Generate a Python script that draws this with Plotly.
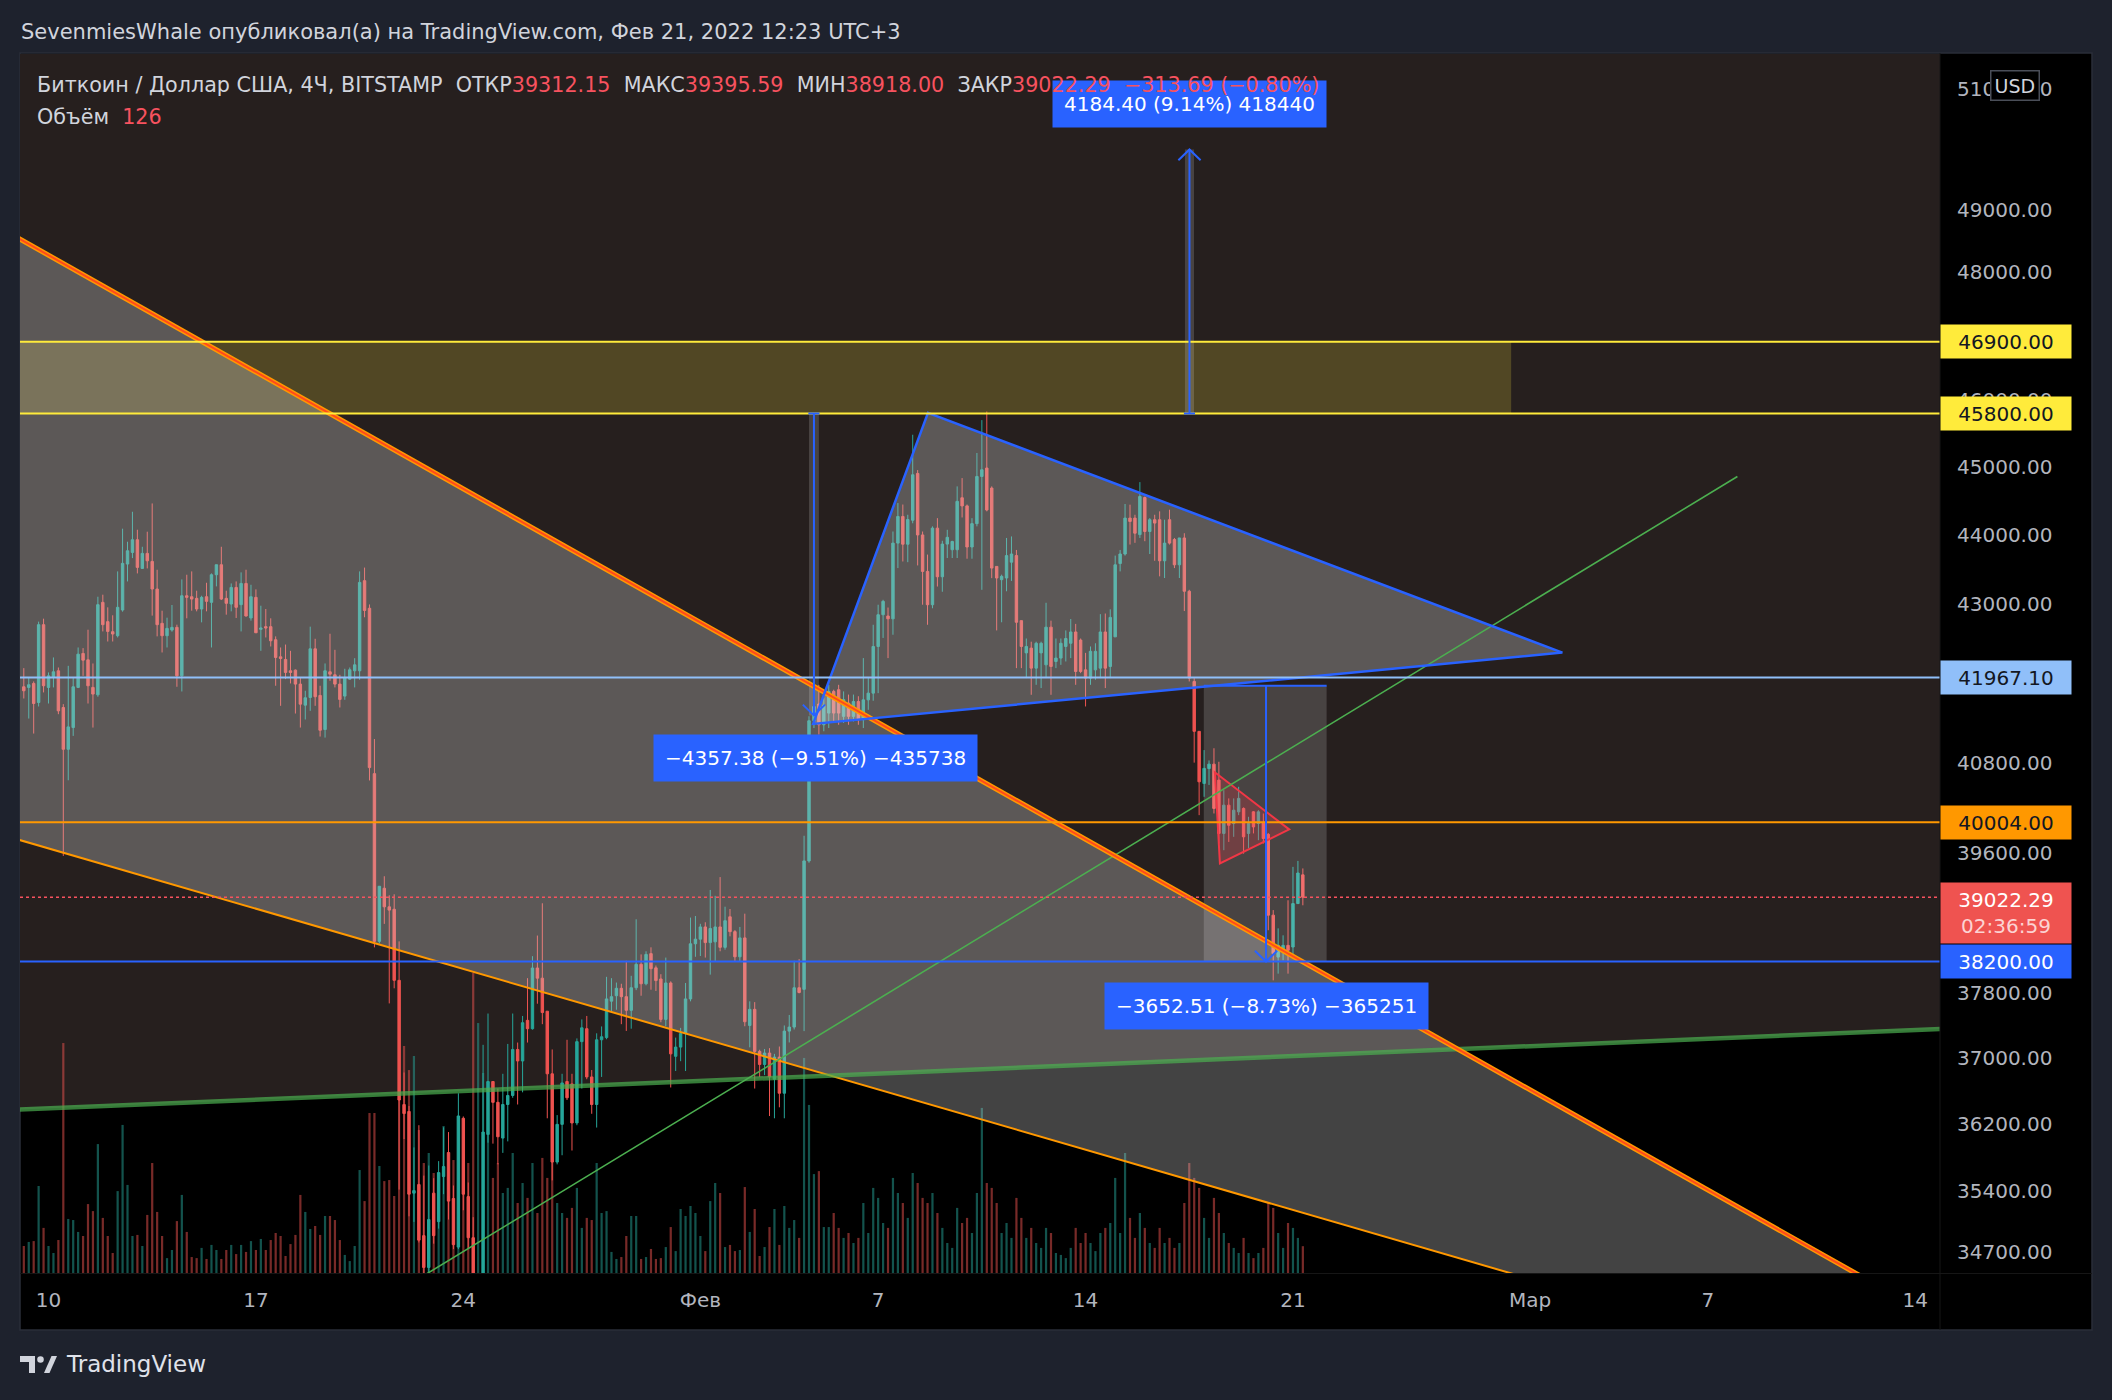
import math
import pandas as pd
import plotly.graph_objects as go

W, H = 2112, 1400
FONT = "DejaVu Sans"

# ---------------- candle data: BITSTAMP BTC/USD, 4H bars (UTC+3) ----------------
first_bar = "2022-01-09 07:00"

opens = [
41838, 41829, 41884, 41621, 42707, 41829, 41967, 42060, 41552, 40981,
41277, 41829, 42302, 42213, 41829, 41727, 43024, 42750, 42608, 42551,
42915, 43573, 43741, 43925, 43510, 43727, 43611, 43214, 42726, 42551,
42631, 42669, 41990, 43118, 43104, 43081, 42929, 43104, 43024, 43419,
43563, 43081, 43000, 43237, 42991, 43294, 42802, 43095, 42641, 42679,
42679, 42494, 42255, 42218, 42060, 42069, 41875, 41584, 41690, 42367,
41718, 41250, 42046, 42004, 41875, 41709, 41944, 42060, 42060, 43334,
42940, 40652, 38456, 39138, 38898, 38867, 37963, 36433, 36350, 35380,
35481, 34886, 34520, 35380, 35048, 35575, 35859, 35317, 34754, 36268,
35340, 34862, 33500, 34300, 36075, 36712, 36460, 36031, 36434, 36543,
37104, 36963, 37463, 37360, 38118, 37990, 37577, 36806, 35746, 36195,
36712, 36683, 36212, 37200, 37360, 36768, 36434, 37223, 37250, 37702,
37770, 37863, 37758, 37588, 37870, 38165, 37920, 38300, 38120, 37980,
37475, 37930, 37020, 37133, 37300, 37730, 38425, 38484, 38640, 38440,
38450, 38640, 38380, 38770, 38580, 38260, 38500, 37400, 37600, 37080,
36920, 37060, 36740, 37010, 36570, 37330, 37380, 37870, 37850, 39494,
41370, 41600, 41315, 41475, 41774, 41797, 41430, 41612, 41430, 41634,
41385, 41657, 41750, 42400, 42848, 42830, 42790, 43876, 44265, 43860,
44210, 44900, 43995, 43467, 42990, 44094, 43390, 43862, 43780, 43780,
44540, 44420, 43820, 44160, 44855, 44980, 44683, 43539, 43348, 43372,
43600, 43695, 42764, 42310, 42377, 42097, 42310, 42143, 42672, 42190,
42237, 42400, 42445, 42604, 42490, 42073, 41958, 42073, 42097, 42604,
42120, 42535, 43580, 43718, 44241, 44241, 44000, 44543, 44045, 44217,
44217, 43620, 44217, 43928, 43562, 43951, 43182, 41912, 41225, 40520,
40720, 40780, 40565, 39855, 40230, 39986, 40141, 40186, 39855, 40141,
39986, 39990, 39843, 38791, 38256, 38342, 38405, 38384, 38940, 39312.15,
]

highs = [
42097, 41958, 41912, 42750, 42792, 42037, 42246, 42106, 41598, 42129,
41958, 42386, 42377, 42636, 42162, 43104, 43133, 42953, 42840, 43467,
44086, 43896, 44334, 44071, 43823, 44042, 44456, 43491, 42905, 42806,
42986, 42707, 43352, 43419, 43467, 43190, 43118, 43304, 43438, 43563,
43823, 43190, 43294, 43323, 43453, 43491, 43275, 43209, 42976, 42929,
42797, 42542, 42386, 42427, 42339, 42078, 41967, 41783, 42679, 42508,
41852, 42162, 42579, 42353, 42004, 42088, 42106, 42236, 43467, 43522,
42994, 41120, 39164, 39294, 39047, 39060, 38456, 36822, 36415, 35920,
36185, 35586, 35705, 35556, 35757, 36160, 36103, 35470, 36570, 36290,
35505, 35100, 34400, 37161, 37548, 36712, 36627, 36806, 37172, 37548,
37189, 37518, 37990, 38268, 38530, 38944, 37577, 37104, 36306, 36806,
37223, 36806, 37240, 37475, 37518, 36852, 37303, 37388, 38007, 37990,
37935, 37920, 38210, 38020, 38738, 38290, 38330, 38380, 38150, 38040,
38250, 37950, 37250, 37370, 37930, 38760, 38780, 38680, 38700, 39116,
39040, 39283, 38900, 38870, 38600, 38640, 38810, 37700, 37690, 37100,
37110, 37120, 37050, 37140, 37400, 37530, 38210, 38230, 39824, 41432,
41958, 41865, 41680, 41865, 41797, 41865, 41774, 41730, 41730, 41707,
42237, 41958, 42706, 42990, 43060, 42950, 44045, 44462, 44440, 44290,
45479, 44950, 44045, 43710, 44120, 44240, 43910, 44070, 43910, 44708,
44831, 44440, 44240, 45205, 45700, 45830, 44708, 43539, 43420, 43951,
43973, 43777, 42764, 42512, 42467, 42467, 42467, 43018, 42764, 42512,
42512, 42626, 42787, 42718, 42512, 42310, 42400, 42445, 42856, 42865,
42925, 43695, 43777, 44448, 44438, 44290, 44771, 44558, 44241, 44290,
44340, 44217, 44364, 43951, 43951, 44020, 43203, 41958, 41225, 40970,
40830, 40995, 40812, 40430, 40320, 40320, 40475, 40200, 40075, 40150,
40163, 40119, 39860, 38856, 38622, 38533, 38983, 39416, 39494, 39395.59,
]

lows = [
41676, 41400, 41195, 41566, 41760, 41607, 41829, 41460, 39559, 40563,
41163, 41820, 41990, 41607, 41277, 41700, 42612, 42470, 42470, 42527,
42891, 43323, 43659, 43438, 43510, 43510, 42835, 42542, 42316, 42386,
42608, 41838, 41773, 42797, 42905, 42896, 42740, 42896, 42386, 43252,
43057, 42849, 42896, 42802, 42612, 42821, 42764, 42593, 42339, 42527,
42400, 41852, 41575, 41944, 41884, 41469, 41277, 41387, 41506, 41575,
41154, 41140, 41921, 41829, 41552, 41658, 41935, 41829, 41935, 42812,
40560, 38380, 38430, 38679, 37674, 37863, 35422, 36020, 35110, 35045,
34807, 34440, 34456, 34793, 34967, 35368, 35072, 34731, 34731, 35180,
34731, 33300, 32950, 34100, 35976, 35965, 35719, 35855, 35992, 36515,
36434, 36581, 37189, 37348, 37670, 37416, 36268, 35530, 35719, 35827,
36488, 35883, 36185, 36627, 36740, 36322, 36157, 36768, 37230, 37580,
37595, 37416, 37332, 37360, 37840, 37770, 37900, 37845, 37830, 37440,
37390, 36640, 36840, 36960, 36840, 37700, 38260, 38270, 38250, 38035,
38200, 38330, 38350, 38520, 38200, 38200, 37390, 37130, 36627, 36768,
36790, 36295, 36268, 36400, 36268, 37190, 37350, 37800, 37330, 39470,
41270, 41180, 41226, 41270, 41360, 41315, 41340, 41315, 41360, 41315,
41270, 41520, 41645, 41750, 42520, 42237, 42565, 43515, 43610, 43600,
44165, 43553, 42990, 42706, 42940, 43250, 43175, 43660, 43660, 43660,
44250, 43650, 43650, 44120, 43203, 44340, 43370, 42626, 42741, 43182,
43330, 42097, 42097, 41958, 41727, 41865, 41820, 41958, 41727, 42097,
42143, 42190, 42237, 41865, 42027, 41566, 41865, 41935, 41958, 41820,
41958, 42535, 43467, 43695, 43855, 43880, 43951, 43904, 43718, 43620,
43396, 43372, 43855, 43515, 43372, 42900, 41912, 40800, 40097, 40341,
40500, 40119, 39722, 39634, 39743, 39810, 40097, 39590, 39660, 39855,
39766, 39722, 38598, 37963, 38047, 38215, 38047, 38256, 38940, 38918.00,
]

closes = [
41783, 41866, 41607, 42707, 41852, 41990, 42046, 41506, 40981, 41286,
41838, 42292, 42208, 41852, 41737, 42991, 42707, 42612, 42575, 42953,
43583, 43765, 43925, 43525, 43727, 43620, 43214, 42707, 42551, 42655,
42669, 41990, 43118, 43095, 43071, 42929, 43095, 43038, 43419, 43563,
43071, 43010, 43237, 42953, 43294, 42830, 43104, 42593, 42660, 42660,
42480, 42246, 42232, 42037, 42037, 41875, 41598, 41686, 42367, 41700,
41240, 42060, 42013, 41875, 41663, 41958, 42074, 42143, 43309, 42909,
40733, 38456, 39164, 38898, 38856, 37963, 36488, 36325, 35368, 35410,
34834, 34520, 35072, 34886, 35622, 35693, 35287, 34782, 36296, 35368,
34862, 33500, 34300, 36103, 36712, 36460, 36047, 36434, 36543, 37104,
36963, 37434, 37360, 38118, 37990, 37560, 36806, 35746, 36195, 36695,
36515, 36212, 37200, 37371, 36768, 36434, 37223, 37260, 37730, 37758,
37863, 37758, 37588, 37870, 38165, 37920, 38290, 38110, 37960, 37475,
37930, 37050, 37133, 37300, 37730, 38425, 38484, 38640, 38440, 38620,
38640, 38380, 38720, 38580, 38260, 38500, 37446, 37600, 37080, 36920,
37060, 36768, 37010, 36570, 37330, 37380, 37870, 37810, 39494, 41370,
41566, 41315, 41585, 41774, 41475, 41475, 41660, 41430, 41634, 41385,
41657, 41750, 42400, 42848, 43038, 42790, 43876, 44265, 43860, 44220,
44880, 43995, 43467, 42990, 44094, 43390, 43862, 43960, 43900, 44487,
44420, 43820, 44160, 44855, 44955, 44360, 43515, 43372, 43396, 43695,
43718, 42741, 42400, 42400, 42097, 42445, 42445, 42672, 42120, 42237,
42445, 42512, 42604, 42050, 42050, 41958, 42332, 42332, 42604, 42097,
42810, 43562, 43718, 44241, 44192, 44020, 44558, 44045, 44217, 44168,
43620, 43876, 43876, 43562, 43951, 43182, 41958, 41225, 40542, 40723,
40780, 40186, 39855, 40230, 39963, 40163, 40320, 39810, 39986, 39941,
40141, 39788, 38791, 38300, 38405, 38405, 38342, 38940, 39335.98, 39022.29,
]

volumes = [
127, 146, 150, 409, 212, 127, 94, 155, 1081, 254,
249, 193, 174, 324, 291, 606, 259, 174, 94, 385,
696, 414, 174, 179, 127, 273, 517, 287, 174, 70,
108, 244, 367, 193, 75, 70, 118, 66, 132, 108,
66, 108, 132, 89, 132, 99, 150, 108, 160, 108,
155, 188, 174, 80, 136, 179, 367, 287, 207, 221,
179, 268, 268, 249, 155, 85, 56, 127, 484, 338,
752, 752, 503, 432, 437, 362, 1283, 1067, 954, 1020,
672, 517, 564, 470, 470, 691, 362, 531, 738, 625,
517, 1410, 1175, 940,
658, 447, 517, 376, 400, 564, 329, 423, 353, 517, 282, 541, 447, 705, 329, 282, 259, 306, 400, 212, 259,
249, 517, 282, 291, 99, 66, 75, 174, 268, 268,
66, 75, 113, 66, 70, 122, 216, 103, 301, 268,
315, 282, 174, 103, 338, 423, 376, 122, 132, 103,
108, 404, 193, 301, 80, 122, 216, 301, 132, 315,
212, 249, 165, 1011, 790, 465, 479, 216, 216,
282, 212, 165, 188, 141, 165, 329, 188, 400, 353,
235, 212, 447, 376, 329, 259, 470, 423, 353, 329,
376, 282, 212, 141, 118, 306, 235, 259, 188, 376,
776, 423, 400, 329, 188, 235, 165, 353, 259, 165,
212, 141, 118, 212, 188, 94, 85, 70, 118, 212,
141, 188, 141, 103, 188, 212, 235, 447, 188, 564,
259, 165, 282, 212, 141, 118, 212, 141, 165, 118,
141, 329, 517, 447, 400, 259, 165, 353, 282, 188,
141, 118, 94, 165, 94, 70, 94, 118, 329, 306,
188, 118, 235, 212, 165, 126,
]

# ---------------- view window / axes ----------------
view_time = ["2022-01-09 03:55", "2022-03-14 23:05"]
view_price = [34457, 51589]
volume_axis_max = 5730

time_tick_dates = ["2022-01-10 03:00", "2022-01-17 03:00", "2022-01-24 03:00", "2022-02-01 03:00",
                   "2022-02-07 03:00", "2022-02-14 03:00", "2022-02-21 03:00", "2022-03-01 03:00",
                   "2022-03-07 03:00", "2022-03-14 03:00"]
time_tick_labels = ["10", "17", "24", "Фев", "7", "14", "21", "Мар", "7", "14"]
price_ticks = [51000, 49000, 48000, 46000, 45000, 44000, 43000, 40800, 39600,
               37800, 37000, 36200, 35400, 34700]

# ---------------- drawings (time, price) ----------------
level_prices = [46900.00, 45800.00, 41967.10, 40004.00, 38200.00]
level_colors = ["#ffeb3b", "#ffeb3b", "#90bff9", "#ff9800", "#2962ff"]
level_text_colors = ["#131722", "#131722", "#131722", "#131722", "#ffffff"]
last_price = 39022.29
bar_countdown = "02:36:59"

channel_upper = [("2022-01-08 11:44", 48703), ("2022-03-15 20:27", 33750)]
channel_lower = [("2022-01-08 11:44", 39843), ("2022-03-15 20:27", 32977)]
support_green = [("2022-01-08 11:44", 36363), ("2022-03-15 20:27", 37371)]
rising_green = [("2022-01-22 03:00", 34291), ("2022-03-08 03:00", 44855)]
zone_time = ["2022-01-01 00:00", "2022-02-28 11:44"]
zone_price = [45800.00, 46900.00]
triangle = [("2022-02-04 22:20", 41327), ("2022-02-08 19:22", 45810), ("2022-03-02 05:11", 42314)]
pennant = [("2022-02-18 11:44", 40670), ("2022-02-18 15:50", 39461), ("2022-02-20 23:57", 39908)]

range_tools = [
    dict(t0="2022-02-04 19:00", t1="2022-02-05 03:00", ta="2022-02-04 23:00",
         p0=45800.00, p1=41442.62, label="−4357.38 (−9.51%) −435738", lx=815, ly=758),
    dict(t0="2022-02-17 11:30", t1="2022-02-17 18:50", ta="2022-02-17 15:10",
         p0=45800.00, p1=49984.40, label="4184.40 (9.14%) 418440", lx=1189, ly=104),
]
date_range_box = dict(t0="2022-02-18 02:47", t1="2022-02-22 06:16", ta="2022-02-20 05:11",
                      p0=41852.51, p1=38200.00, label="−3652.51 (−8.73%) −365251", lx=1266, ly=1006)

UP, DN = "#26a69a", "#ef5350"
RED_TXT = "#f7525f"
GRAY_FILL = "rgba(212,212,212,0.316)"
TOOL_FILL = "rgba(255,255,255,0.16)"
BLUE = "#2962ff"

# ---------------- helpers ----------------
def px(x):
    return x / W


def py(y):
    return 1 - y / H


def ts(t):
    return pd.Timestamp(t).strftime("%Y-%m-%d_%H:%M:%S")


def poly(points, closed=True):
    s = " ".join(("M" if k == 0 else "L") + f"{ts(t)},{p}" for k, (t, p) in enumerate(points))
    return s + (" Z" if closed else "")


def tshift(t, hours):
    return pd.Timestamp(t) + pd.Timedelta(hours=hours)


def dline(pts, color, width, dash="solid"):
    (t0, p0), (t1, p1) = pts
    return dict(type="line", xref="x", yref="y2", x0=str(pd.Timestamp(t0)), y0=p0,
                x1=str(pd.Timestamp(t1)), y1=p1, layer="above",
                line=dict(color=color, width=width, dash=dash))


times = [str(t) for t in pd.date_range(first_bar, periods=len(closes), freq="4h")]
vol_colors = ["rgba(38,166,154,0.5)" if c >= o else "rgba(239,83,80,0.5)" for o, c in zip(opens, closes)]

fig = go.Figure()
fig.add_trace(go.Bar(x=times, y=volumes, marker=dict(color=vol_colors, line=dict(width=0)),
                     xaxis="x", yaxis="y", hoverinfo="skip"))
fig.add_trace(go.Candlestick(
    x=times, open=opens, high=highs, low=lows, close=closes, xaxis="x", yaxis="y2",
    increasing=dict(line=dict(color=UP, width=1), fillcolor=UP),
    decreasing=dict(line=dict(color=DN, width=1), fillcolor=DN),
    whiskerwidth=0, hoverinfo="skip"))

shapes = []
# pane background & frame
shapes.append(dict(type="rect", xref="paper", yref="paper", x0=px(20), x1=px(2092), y0=py(1330), y1=py(53),
                   fillcolor="#000000", line=dict(color="#2a2e39", width=1.5), layer="below"))
# brown region above the long green line
far_top = 80000
brown = [support_green[0], support_green[1], (support_green[1][0], far_top), (support_green[0][0], far_top)]
shapes.append(dict(type="path", xref="x", yref="y2", path=poly(brown), fillcolor="#261f1e",
                   line=dict(width=0), layer="below"))

# fills (above candles, semi-transparent)
shapes.append(dict(type="rect", xref="x", yref="y2", x0=zone_time[0], x1=zone_time[1],
                   y0=zone_price[0], y1=zone_price[1], fillcolor="rgba(255,235,59,0.2)",
                   line=dict(width=0), layer="above"))
channel_poly = [channel_upper[0], channel_upper[1], channel_lower[1], channel_lower[0]]
shapes.append(dict(type="path", xref="x", yref="y2", path=poly(channel_poly), fillcolor=GRAY_FILL,
                   line=dict(width=0), layer="above"))
shapes.append(dict(type="path", xref="x", yref="y2", path=poly(triangle), fillcolor=GRAY_FILL,
                   line=dict(width=0), layer="above"))
shapes.append(dict(type="rect", xref="x", yref="y2", x0=date_range_box["t0"], x1=date_range_box["t1"],
                   y0=date_range_box["p1"], y1=date_range_box["p0"], fillcolor=TOOL_FILL,
                   line=dict(width=0), layer="above"))
for r in range_tools:
    shapes.append(dict(type="rect", xref="x", yref="y2", x0=r["t0"], x1=r["t1"],
                       y0=min(r["p0"], r["p1"]), y1=max(r["p0"], r["p1"]), fillcolor=TOOL_FILL,
                       line=dict(width=0), layer="above"))
shapes.append(dict(type="path", xref="x", yref="y2", path=poly(pennant), fillcolor="rgba(242,54,69,0.24)",
                   line=dict(color="#f23645", width=2), layer="above"))

# trend lines
shapes.append(dline(channel_lower, "#ff9800", 2))
shapes.append(dline(support_green, "rgba(76,175,80,0.7)", 4.5))
shapes.append(dline(rising_green, "#4caf50", 1.6))
shapes.append(dline(channel_upper, "#ff9800", 5))
shapes.append(dline(channel_upper, "#ff4a1c", 2))
shapes.append(dict(type="path", xref="x", yref="y2", path=poly(triangle), line=dict(color=BLUE, width=2.5),
                   layer="above"))

# horizontal levels
for p, c in zip(level_prices, level_colors):
    shapes.append(dline([(view_time[0], p), ("2022-03-20", p)], c, 2))
shapes.append(dline([(view_time[0], last_price), ("2022-03-20", last_price)], RED_TXT, 1.6, "dot"))

# measurement arrows
def arrow(tool, up):
    out = [dline([(tool["ta"], tool["p0"]), (tool["ta"], tool["p1"])], BLUE, 2)]
    f = 1 / 1.0036 if up else 1.0036
    head = [(tshift(tool["ta"], -9), tool["p1"] * f), (tool["ta"], tool["p1"]), (tshift(tool["ta"], 9), tool["p1"] * f)]
    out.append(dict(type="path", xref="x", yref="y2", path=poly(head, closed=False),
                    line=dict(color=BLUE, width=2), layer="above"))
    return out

for r in range_tools:
    up = r["p1"] > r["p0"]
    shapes.extend(arrow(r, up))
    shapes.append(dline([(tshift(r["ta"], -4.5), r["p0"]), (tshift(r["ta"], 4.5), r["p0"])], BLUE, 2))
shapes.extend(arrow(date_range_box, False))
shapes.append(dline([(date_range_box["t0"], date_range_box["p0"]), (date_range_box["t1"], date_range_box["p0"])], BLUE, 2))

# axis separators
shapes.append(dict(type="line", xref="paper", yref="paper", x0=px(1940), x1=px(1940), y0=py(1330), y1=py(53),
                   line=dict(color="#161616", width=1), layer="above"))
shapes.append(dict(type="line", xref="paper", yref="paper", x0=px(20), x1=px(2092), y0=py(1273.5), y1=py(1273.5),
                   line=dict(color="#161616", width=1), layer="above"))

# TradingView logo
LOGO = "#d1d4dc"
shapes.append(dict(type="rect", xref="paper", yref="paper", x0=px(20), x1=px(35), y0=py(1362), y1=py(1356),
                   fillcolor=LOGO, line=dict(width=0)))
shapes.append(dict(type="rect", xref="paper", yref="paper", x0=px(29), x1=px(35), y0=py(1373), y1=py(1356),
                   fillcolor=LOGO, line=dict(width=0)))
shapes.append(dict(type="circle", xref="paper", yref="paper", x0=px(37.2), x1=px(43.8), y0=py(1362.8), y1=py(1356.2),
                   fillcolor=LOGO, line=dict(width=0)))
shapes.append(dict(type="path", xref="paper", yref="paper",
                   path=f"M{px(44)},{py(1373)} L{px(49.5)},{py(1373)} L{px(57)},{py(1356)} L{px(51.5)},{py(1356)} Z",
                   fillcolor=LOGO, line=dict(width=0)))

annotations = []
# measurement labels
for tool in range_tools + [date_range_box]:
    annotations.append(dict(xref="paper", yref="paper", x=px(tool["lx"]), y=py(tool["ly"]), text=tool["label"],
                            xanchor="center", yanchor="middle",
                            showarrow=False, bgcolor="#2962ff", borderpad=11,
                            font=dict(family=FONT, size=20, color="#ffffff")))

# price-axis labels
for p, bg, fg in zip(level_prices, level_colors, level_text_colors):
    annotations.append(dict(xref="paper", yref="y2", x=px(1940), y=math.log10(p), xanchor="left",
                            yanchor="middle", text=f"{p:.2f}", showarrow=False, bgcolor=bg,
                            width=124, height=27, borderpad=3, align="center",
                            font=dict(family=FONT, size=20, color=fg)))
annotations.append(dict(xref="paper", yref="y2", x=px(1940), y=math.log10(last_price), xanchor="left",
                        yanchor="top", yshift=15, showarrow=False, bgcolor="#ef5350",
                        text=f"{last_price:.2f}<br><span style='color:#fcd3d3'>{bar_countdown}</span>",
                        width=124, height=54, borderpad=3, align="center",
                        font=dict(family=FONT, size=20, color="#ffffff")))
annotations.append(dict(xref="paper", yref="paper", x=px(2015), y=py(85), text="USD", showarrow=False,
                        xanchor="center", yanchor="middle",
                        bgcolor="#000000", bordercolor="#4a4e58", borderwidth=1.5, borderpad=3,
                        font=dict(family=FONT, size=19, color="#d1d4dc")))

# headers
annotations.append(dict(xref="paper", yref="paper", x=px(19), y=py(32), xanchor="left", yanchor="middle",
                        showarrow=False,
                        text="SevenmiesWhale опубликовал(а) на TradingView.com, Фев 21, 2022 12:23 UTC+3",
                        font=dict(family=FONT, size=21, color="#d1d4dc")))

def red(s):
    return f"<span style='color:{RED_TXT}'>{s}</span>"

NB = "\u00a0\u00a0"
change = closes[-1] - closes[-2]
legend = ("Биткоин / Доллар США, 4Ч, BITSTAMP" + NB +
          "ОТКР" + red(f"{opens[-1]:.2f}") + NB +
          "МАКС" + red(f"{highs[-1]:.2f}") + NB +
          "МИН" + red(f"{lows[-1]:.2f}") + NB +
          "ЗАКР" + red(f"{closes[-1]:.2f}") + NB +
          red(f"−{abs(change):.2f} (−{abs(change) / closes[-2] * 100:.2f}%)"))
annotations.append(dict(xref="paper", yref="paper", x=px(35), y=py(85), xanchor="left", yanchor="middle",
                        showarrow=False, text=legend, font=dict(family=FONT, size=20.7, color="#d1d4dc")))
annotations.append(dict(xref="paper", yref="paper", x=px(35), y=py(117), xanchor="left", yanchor="middle",
                        showarrow=False, text="Объём" + NB + red(f"{volumes[-1]}"),
                        font=dict(family=FONT, size=20.7, color="#d1d4dc")))
annotations.append(dict(xref="paper", yref="paper", x=px(64), y=py(1364), xanchor="left", yanchor="middle",
                        showarrow=False, text="TradingView", font=dict(family=FONT, size=23, color="#e0e3eb")))

fig.update_layout(
    width=W, height=H, autosize=False, margin=dict(l=0, r=0, t=0, b=0),
    paper_bgcolor="#1e222d", plot_bgcolor="rgba(0,0,0,0)", showlegend=False,
    bargap=0.55,
    xaxis=dict(type="date", domain=[px(20), px(1940)], range=view_time, tickmode="array",
               tickvals=time_tick_dates, ticktext=time_tick_labels, showgrid=False, zeroline=False,
               showline=False, ticks="", ticklabelstandoff=13,
               tickfont=dict(family=FONT, size=20, color="#b2b5be"),
               rangeslider=dict(visible=False), fixedrange=True),
    yaxis=dict(domain=[(H - 1273) / H, (H - 54) / H], range=[0, volume_axis_max], visible=False,
               fixedrange=True),
    yaxis2=dict(type="log", overlaying="y", side="right", anchor="x",
                range=[math.log10(view_price[0]), math.log10(view_price[1])],
                tickmode="array", tickvals=price_ticks, ticktext=[f"{v:.2f}" for v in price_ticks],
                showgrid=False, zeroline=False, showline=False, ticks="", ticklabelstandoff=16,
                tickfont=dict(family=FONT, size=20, color="#b2b5be"), fixedrange=True),
    shapes=shapes, annotations=annotations,
)

page_fix = ("document.documentElement.style.margin='0';document.body.style.margin='0';"
            "document.body.style.padding='0';document.body.style.overflow='hidden';"
            "document.body.style.background='#1e222d';")
fig.write_html("out.html", config={"displayModeBar": False}, post_script=page_fix)
